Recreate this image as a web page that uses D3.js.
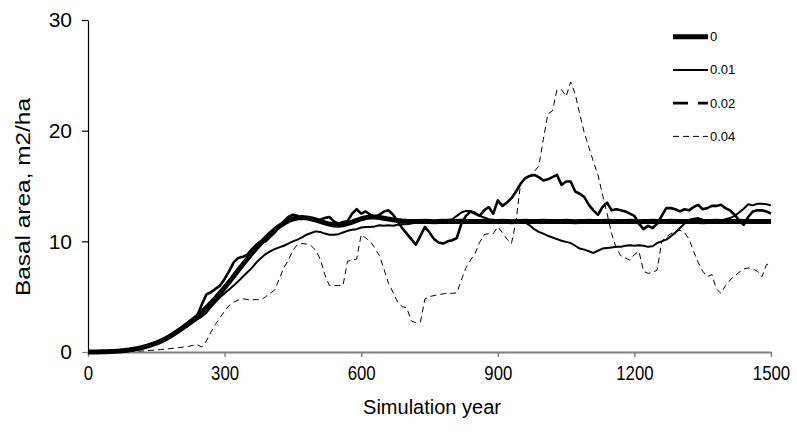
<!DOCTYPE html>
<html>
<head>
<meta charset="utf-8">
<script src="https://cdn.jsdelivr.net/npm/d3@7"></script>
<style>
  html, body { margin: 0; padding: 0; background: #fff; }
  svg { display: block; font-family: "Liberation Sans", Arial, sans-serif; }
</style>
</head>
<body>
<svg id="chart" width="797" height="432"></svg>
<script>
// ---- data ----
const years = d3.range(0, 1501, 10);
const seriesNames = ["0", "0.01", "0.02", "0.04"];
const xTickValues = [0, 300, 600, 900, 1200, 1500];
const yTickValues = [0, 10, 20, 30];
const xTitle = "Simulation year";
const yTitle = "Basal area, m2/ha";

const s0 = [0,0,0.01,0.02,0.03,0.05,0.07,0.1,0.14,0.19,0.25,0.33,0.42,0.53,0.66,0.8,0.97,1.18,1.42,1.68,
  1.95,2.25,2.55,2.88,3.22,3.6,4.0,4.42,4.86,5.33,5.82,6.33,6.85,7.38,7.9,8.42,8.92,9.4,9.86,10.28,
  10.68,11.04,11.36,11.63,11.86,12.02,12.12,12.16,12.12,12.04,11.93,11.8,11.67,11.56,11.48,11.46,11.5,11.6,11.74,11.9,
  12.04,12.14,12.2,12.2,12.16,12.09,12.01,11.94,11.88,11.84,11.81,
  11.8,11.79,11.8,11.81,11.8,11.78,11.8,11.82,11.8,11.79,11.8,11.81,11.8,11.8,11.79,11.8,11.82,11.8,11.79,11.8,
  11.81,11.8,11.78,11.8,11.8,11.81,11.8,11.79,11.8,11.82,11.8,11.8,11.79,11.8,11.81,11.8,11.78,11.8,11.8,11.81,
  11.8,11.79,11.8,11.82,11.8,11.8,11.79,11.8,11.81,11.8,11.78,11.8,11.8,11.81,11.8,11.79,11.8,11.82,11.8,11.8,
  11.79,11.8,11.81,11.8,11.78,11.8,11.8,11.81,11.8,11.79,11.8,11.8,11.81,11.8,11.79,11.8,11.8,11.8,11.79,11.8];

const s1 = [0,0,0.01,0.02,0.03,0.05,0.07,0.1,0.13,0.18,0.24,0.31,0.4,0.5,0.62,0.76,0.92,1.1,1.32,1.56,
  1.82,2.08,2.36,2.64,2.94,3.2,3.55,4.05,4.5,4.95,5.3,5.65,6.0,6.4,6.8,7.2,7.6,8.1,8.5,8.85,
  9.1,9.3,9.45,9.6,9.8,10.0,10.15,10.35,10.6,10.75,10.9,10.85,10.7,10.6,10.6,10.65,10.8,10.95,11.05,11.1,
  11.25,11.3,11.3,11.35,11.45,11.4,11.45,11.4,11.5,11.55,11.55,
  11.6,11.7,11.75,11.8,11.85,11.8,11.85,11.9,11.95,12.0,12.3,12.6,12.75,12.75,12.6,12.3,12.15,12.0,11.95,11.9,
  11.85,11.9,11.85,11.8,11.8,11.7,11.45,11.1,10.85,10.7,10.5,10.35,10.2,10.05,9.95,9.85,9.6,9.35,9.25,9.1,
  8.95,9.15,9.35,9.4,9.45,9.5,9.5,9.6,9.65,9.6,9.65,9.6,9.5,9.55,9.85,10.0,10.15,10.45,10.8,11.2,
  11.6,11.95,12.05,12.1,11.95,11.85,11.8,11.75,11.85,12.0,12.1,12.3,12.6,12.95,13.35,13.25,13.4,13.4,13.35,13.25];

const s2 = [0,0,0.01,0.02,0.04,0.06,0.08,0.12,0.16,0.22,0.3,0.38,0.48,0.6,0.75,0.9,1.08,1.28,1.5,1.75,
  2.05,2.35,2.65,2.95,3.3,4.3,5.2,5.4,5.7,6.0,6.6,7.3,8.1,8.5,8.6,8.8,9.3,9.7,10.0,10.0,
  10.4,10.8,11.3,11.8,12.2,12.4,12.3,12.1,12.1,12.0,11.9,11.95,12.1,12.2,11.8,11.6,11.75,11.8,12.5,12.9,
  12.5,12.7,12.4,12.2,12.4,12.7,12.8,12.4,11.8,11.2,10.7,
  10.2,9.7,10.5,11.3,10.8,10.2,9.9,9.8,10.0,10.1,10.3,11.6,12.3,12.7,12.5,12.3,12.8,13.1,12.5,13.7,
  13.2,13.5,13.9,14.5,15.2,15.7,15.9,16.0,15.8,15.5,15.6,15.8,16.0,15.1,15.4,15.4,14.5,14.3,14.0,13.3,
  12.8,12.4,13.1,13.5,12.8,12.9,12.8,12.7,12.5,12.3,11.6,11.1,11.4,11.2,11.6,12.3,13.0,13.0,12.9,12.7,
  12.9,12.8,13.1,13.3,12.9,13.0,13.2,13.2,13.3,13.0,12.8,12.4,11.9,11.5,12.2,12.7,12.8,12.8,12.7,12.5];

const s3 = [0,0,0,0,0.01,0.01,0.02,0.03,0.04,0.05,0.06,0.08,0.1,0.12,0.15,0.18,0.22,0.26,0.3,0.35,
  0.4,0.45,0.5,0.6,0.65,0.45,1.0,1.8,2.5,3.1,3.7,4.2,4.5,4.7,4.8,4.75,4.7,4.75,4.7,5.0,
  5.3,5.6,6.6,7.6,8.3,9.2,9.7,9.8,9.75,9.6,9.2,8.4,7.0,6.0,6.0,6.0,6.0,8.2,8.3,8.4,
  10.6,10.3,10.0,9.4,8.7,7.5,6.2,5.4,4.5,4.1,4.0,
  2.8,2.65,2.7,4.8,5.0,5.1,5.2,5.25,5.3,5.3,5.35,6.5,7.6,8.3,8.9,9.9,10.6,10.7,10.7,11.3,
  10.8,10.2,9.8,11.8,15.2,15.7,15.9,16.3,16.8,19.2,21.5,21.8,23.7,23.7,23.1,24.4,23.3,21.5,19.8,18.5,
  17.2,16.0,14.2,12.5,10.7,9.4,8.7,8.5,8.3,8.8,9.1,7.3,7.1,7.2,7.4,10.0,10.4,10.7,10.9,11.0,
  10.8,10.2,9.1,8.1,7.3,6.8,7.0,5.7,5.3,6.0,6.5,6.9,7.2,7.5,7.6,7.5,7.3,6.8,7.9,8.0];

const seriesValues = [s0, s1, s2, s3];

// ---- styles (not data) ----
const styles = [
  { width: 5,   plotDash: null,  legendDash: null },
  { width: 2,   plotDash: null,  legendDash: null },
  { width: 2.6, plotDash: null,  legendDash: "15,10" },
  { width: 1,   plotDash: "6,4", legendDash: "6,4" }
];

// ---- layout ----
const svg = d3.select("#chart");
const x = d3.scaleLinear().domain([0, 1500]).range([88, 771]);
const y = d3.scaleLinear().domain([0, 30]).range([352, 20]);

// x axis (gray)
const gx = svg.append("g").attr("transform", `translate(0,${y(0)})`)
  .call(d3.axisBottom(x).tickValues(xTickValues).tickFormat(d3.format("d"))
    .tickSize(5).tickPadding(9).tickSizeOuter(0));
gx.select(".domain").attr("stroke", "#808080").attr("stroke-width", 2);
gx.selectAll(".tick line").attr("stroke", "#808080").attr("stroke-width", 1.5);
gx.selectAll(".tick text").attr("fill", "#000").attr("font-size", 20)
  .attr("font-family", "'Liberation Sans', Arial, sans-serif")
  .attr("transform", "scale(0.84,1)");

// y axis
const gy = svg.append("g").attr("transform", `translate(${x(0)},0)`)
  .call(d3.axisLeft(y).tickValues(yTickValues).tickSize(6).tickPadding(10).tickSizeOuter(0));
gy.select(".domain").attr("stroke", "#000").attr("stroke-width", 1.2);
gy.selectAll(".tick line").attr("stroke", "#000").attr("stroke-width", 1.2);
gy.selectAll(".tick text").attr("fill", "#000").attr("font-size", 21)
  .attr("font-family", "'Liberation Sans', Arial, sans-serif");
gy.selectAll(".tick").filter(d => d === 0).select("line").attr("stroke", "#808080");

// axis titles
svg.append("text").attr("x", 432).attr("y", 414).attr("text-anchor", "middle")
  .attr("font-size", 20).text(xTitle);
svg.append("text").attr("transform", "translate(30,197) rotate(-90)")
  .attr("text-anchor", "middle").attr("font-size", 21)
  .attr("textLength", 198).attr("lengthAdjust", "spacingAndGlyphs").text(yTitle);

// series lines (thick one on top)
const order = [3, 2, 1, 0];
const line = d3.line().x((d, i) => x(years[i])).y(d => y(d));
order.forEach(k => {
  const st = styles[k];
  svg.append("path")
    .datum(seriesValues[k])
    .attr("fill", "none")
    .attr("stroke", "#000")
    .attr("stroke-width", st.width)
    .attr("stroke-linejoin", "round")
    .attr("stroke-dasharray", st.plotDash)
    .attr("d", line);
});

// legend
const legendY = d3.scaleBand().domain(seriesNames).range([20, 153]);
const lg = svg.append("g");
seriesNames.forEach((name, k) => {
  const cy = legendY(name) + legendY.bandwidth() / 2;
  lg.append("line").attr("x1", 673).attr("x2", 708).attr("y1", cy).attr("y2", cy)
    .attr("stroke", "#000").attr("stroke-width", styles[k].width)
    .attr("stroke-dasharray", styles[k].legendDash);
  lg.append("text").attr("x", 710).attr("y", cy).attr("dy", "0.35em")
    .attr("font-size", 13).text(name);
});
</script>
</body>
</html>
